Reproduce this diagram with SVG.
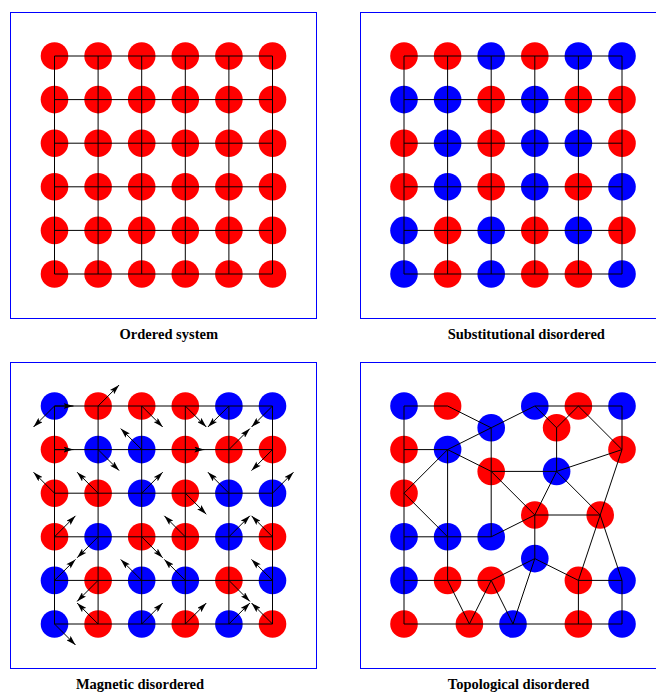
<svg xmlns="http://www.w3.org/2000/svg" width="656" height="693" viewBox="0 0 656 693">
<style>
.frame{fill:none;stroke:#0000ff;stroke-width:1}
.r{fill:#ff0000}
.b{fill:#0000ff}
.edge{fill:none;stroke:#000;stroke-width:1}
.arrow{stroke:#000;stroke-width:1;marker-end:url(#ah)}
.label{font-family:"Liberation Serif","Times New Roman",serif;font-weight:bold;font-size:14.5px;text-anchor:middle;fill:#000}
</style>
<defs>
<marker id="ah" viewBox="0 0 10 6" refX="10" refY="3" markerWidth="10" markerHeight="6" markerUnits="userSpaceOnUse" orient="auto">
<path d="M0,0 L10,3 L0,6 L2,3 z" fill="#000"/>
</marker>
<path id="grid" class="edge" d="M54.5 56H272.5M54.5 99.6H272.5M54.5 143.2H272.5M54.5 186.8H272.5M54.5 230.4H272.5M54.5 274H272.5M54.5 56V274M98.1 56V274M141.7 56V274M185.3 56V274M228.9 56V274M272.5 56V274"/>
</defs>
<rect width="656" height="693" fill="#fff"/>

<g id="panel-ordered">
<rect class="frame" x="10.5" y="12.5" width="306" height="306"/>
<g id="ordered-atoms">
<circle id="o00" class="r" cx="54.5" cy="56" r="13.8"/><circle id="o01" class="r" cx="98.1" cy="56" r="13.8"/><circle id="o02" class="r" cx="141.7" cy="56" r="13.8"/><circle id="o03" class="r" cx="185.3" cy="56" r="13.8"/><circle id="o04" class="r" cx="228.9" cy="56" r="13.8"/><circle id="o05" class="r" cx="272.5" cy="56" r="13.8"/>
<circle id="o10" class="r" cx="54.5" cy="99.6" r="13.8"/><circle id="o11" class="r" cx="98.1" cy="99.6" r="13.8"/><circle id="o12" class="r" cx="141.7" cy="99.6" r="13.8"/><circle id="o13" class="r" cx="185.3" cy="99.6" r="13.8"/><circle id="o14" class="r" cx="228.9" cy="99.6" r="13.8"/><circle id="o15" class="r" cx="272.5" cy="99.6" r="13.8"/>
<circle id="o20" class="r" cx="54.5" cy="143.2" r="13.8"/><circle id="o21" class="r" cx="98.1" cy="143.2" r="13.8"/><circle id="o22" class="r" cx="141.7" cy="143.2" r="13.8"/><circle id="o23" class="r" cx="185.3" cy="143.2" r="13.8"/><circle id="o24" class="r" cx="228.9" cy="143.2" r="13.8"/><circle id="o25" class="r" cx="272.5" cy="143.2" r="13.8"/>
<circle id="o30" class="r" cx="54.5" cy="186.8" r="13.8"/><circle id="o31" class="r" cx="98.1" cy="186.8" r="13.8"/><circle id="o32" class="r" cx="141.7" cy="186.8" r="13.8"/><circle id="o33" class="r" cx="185.3" cy="186.8" r="13.8"/><circle id="o34" class="r" cx="228.9" cy="186.8" r="13.8"/><circle id="o35" class="r" cx="272.5" cy="186.8" r="13.8"/>
<circle id="o40" class="r" cx="54.5" cy="230.4" r="13.8"/><circle id="o41" class="r" cx="98.1" cy="230.4" r="13.8"/><circle id="o42" class="r" cx="141.7" cy="230.4" r="13.8"/><circle id="o43" class="r" cx="185.3" cy="230.4" r="13.8"/><circle id="o44" class="r" cx="228.9" cy="230.4" r="13.8"/><circle id="o45" class="r" cx="272.5" cy="230.4" r="13.8"/>
<circle id="o50" class="r" cx="54.5" cy="274" r="13.8"/><circle id="o51" class="r" cx="98.1" cy="274" r="13.8"/><circle id="o52" class="r" cx="141.7" cy="274" r="13.8"/><circle id="o53" class="r" cx="185.3" cy="274" r="13.8"/><circle id="o54" class="r" cx="228.9" cy="274" r="13.8"/><circle id="o55" class="r" cx="272.5" cy="274" r="13.8"/>
</g>
<g id="ordered-connectors"><use href="#grid"/></g>
<text class="label" x="168.8" y="338.5">Ordered system</text>
</g>

<g id="panel-substitutional" transform="translate(349.5,0)">
<rect class="frame" x="11" y="12.5" width="306" height="306"/>
<g id="subst-atoms">
<circle id="s00" class="r" cx="54.5" cy="56" r="13.8"/><circle id="s01" class="r" cx="98.1" cy="56" r="13.8"/><circle id="s02" class="b" cx="141.7" cy="56" r="13.8"/><circle id="s03" class="r" cx="185.3" cy="56" r="13.8"/><circle id="s04" class="b" cx="228.9" cy="56" r="13.8"/><circle id="s05" class="b" cx="272.5" cy="56" r="13.8"/>
<circle id="s10" class="b" cx="54.5" cy="99.6" r="13.8"/><circle id="s11" class="b" cx="98.1" cy="99.6" r="13.8"/><circle id="s12" class="r" cx="141.7" cy="99.6" r="13.8"/><circle id="s13" class="b" cx="185.3" cy="99.6" r="13.8"/><circle id="s14" class="r" cx="228.9" cy="99.6" r="13.8"/><circle id="s15" class="r" cx="272.5" cy="99.6" r="13.8"/>
<circle id="s20" class="r" cx="54.5" cy="143.2" r="13.8"/><circle id="s21" class="b" cx="98.1" cy="143.2" r="13.8"/><circle id="s22" class="r" cx="141.7" cy="143.2" r="13.8"/><circle id="s23" class="b" cx="185.3" cy="143.2" r="13.8"/><circle id="s24" class="b" cx="228.9" cy="143.2" r="13.8"/><circle id="s25" class="r" cx="272.5" cy="143.2" r="13.8"/>
<circle id="s30" class="r" cx="54.5" cy="186.8" r="13.8"/><circle id="s31" class="b" cx="98.1" cy="186.8" r="13.8"/><circle id="s32" class="r" cx="141.7" cy="186.8" r="13.8"/><circle id="s33" class="b" cx="185.3" cy="186.8" r="13.8"/><circle id="s34" class="r" cx="228.9" cy="186.8" r="13.8"/><circle id="s35" class="b" cx="272.5" cy="186.8" r="13.8"/>
<circle id="s40" class="b" cx="54.5" cy="230.4" r="13.8"/><circle id="s41" class="r" cx="98.1" cy="230.4" r="13.8"/><circle id="s42" class="b" cx="141.7" cy="230.4" r="13.8"/><circle id="s43" class="r" cx="185.3" cy="230.4" r="13.8"/><circle id="s44" class="b" cx="228.9" cy="230.4" r="13.8"/><circle id="s45" class="r" cx="272.5" cy="230.4" r="13.8"/>
<circle id="s50" class="b" cx="54.5" cy="274" r="13.8"/><circle id="s51" class="r" cx="98.1" cy="274" r="13.8"/><circle id="s52" class="b" cx="141.7" cy="274" r="13.8"/><circle id="s53" class="r" cx="185.3" cy="274" r="13.8"/><circle id="s54" class="r" cx="228.9" cy="274" r="13.8"/><circle id="s55" class="b" cx="272.5" cy="274" r="13.8"/>
</g>
<g id="subst-connectors"><use href="#grid"/></g>
<text class="label" x="176.8" y="338.5">Substitutional disordered</text>
</g>

<g id="panel-magnetic" transform="translate(0,350)">
<rect class="frame" x="10.5" y="12.5" width="306" height="306"/>
<g id="magnetic-atoms">
<circle id="m00" class="b" cx="54.5" cy="56" r="13.8"/><circle id="m01" class="r" cx="98.1" cy="56" r="13.8"/><circle id="m02" class="r" cx="141.7" cy="56" r="13.8"/><circle id="m03" class="r" cx="185.3" cy="56" r="13.8"/><circle id="m04" class="b" cx="228.9" cy="56" r="13.8"/><circle id="m05" class="b" cx="272.5" cy="56" r="13.8"/>
<circle id="m10" class="r" cx="54.5" cy="99.6" r="13.8"/><circle id="m11" class="b" cx="98.1" cy="99.6" r="13.8"/><circle id="m12" class="b" cx="141.7" cy="99.6" r="13.8"/><circle id="m13" class="r" cx="185.3" cy="99.6" r="13.8"/><circle id="m14" class="r" cx="228.9" cy="99.6" r="13.8"/><circle id="m15" class="r" cx="272.5" cy="99.6" r="13.8"/>
<circle id="m20" class="r" cx="54.5" cy="143.2" r="13.8"/><circle id="m21" class="r" cx="98.1" cy="143.2" r="13.8"/><circle id="m22" class="b" cx="141.7" cy="143.2" r="13.8"/><circle id="m23" class="r" cx="185.3" cy="143.2" r="13.8"/><circle id="m24" class="b" cx="228.9" cy="143.2" r="13.8"/><circle id="m25" class="b" cx="272.5" cy="143.2" r="13.8"/>
<circle id="m30" class="r" cx="54.5" cy="186.8" r="13.8"/><circle id="m31" class="b" cx="98.1" cy="186.8" r="13.8"/><circle id="m32" class="r" cx="141.7" cy="186.8" r="13.8"/><circle id="m33" class="r" cx="185.3" cy="186.8" r="13.8"/><circle id="m34" class="b" cx="228.9" cy="186.8" r="13.8"/><circle id="m35" class="r" cx="272.5" cy="186.8" r="13.8"/>
<circle id="m40" class="b" cx="54.5" cy="230.4" r="13.8"/><circle id="m41" class="r" cx="98.1" cy="230.4" r="13.8"/><circle id="m42" class="b" cx="141.7" cy="230.4" r="13.8"/><circle id="m43" class="b" cx="185.3" cy="230.4" r="13.8"/><circle id="m44" class="r" cx="228.9" cy="230.4" r="13.8"/><circle id="m45" class="b" cx="272.5" cy="230.4" r="13.8"/>
<circle id="m50" class="b" cx="54.5" cy="274" r="13.8"/><circle id="m51" class="r" cx="98.1" cy="274" r="13.8"/><circle id="m52" class="b" cx="141.7" cy="274" r="13.8"/><circle id="m53" class="r" cx="185.3" cy="274" r="13.8"/><circle id="m54" class="b" cx="228.9" cy="274" r="13.8"/><circle id="m55" class="r" cx="272.5" cy="274" r="13.8"/>
</g>
<g id="magnetic-connectors"><use href="#grid"/></g>
<g id="magnetic-spins">
<line class="arrow" x1="54.5" y1="56" x2="33.5" y2="77"/><line class="arrow" x1="54.5" y1="56" x2="73.5" y2="56"/><line class="arrow" x1="98.1" y1="56" x2="119.1" y2="35"/><line class="arrow" x1="141.7" y1="56" x2="162.7" y2="77"/><line class="arrow" x1="185.3" y1="56" x2="206.3" y2="77"/><line class="arrow" x1="228.9" y1="56" x2="207.9" y2="77"/><line class="arrow" x1="272.5" y1="56" x2="251.5" y2="77"/>
<line class="arrow" x1="54.5" y1="99.6" x2="73.5" y2="99.6"/><line class="arrow" x1="98.1" y1="99.6" x2="119.1" y2="120.6"/><line class="arrow" x1="141.7" y1="99.6" x2="120.7" y2="78.6"/><line class="arrow" x1="185.3" y1="99.6" x2="204.3" y2="99.6"/><line class="arrow" x1="228.9" y1="99.6" x2="249.9" y2="78.6"/><line class="arrow" x1="272.5" y1="99.6" x2="251.5" y2="120.6"/>
<line class="arrow" x1="54.5" y1="143.2" x2="33.5" y2="122.2"/><line class="arrow" x1="98.1" y1="143.2" x2="77.1" y2="122.2"/><line class="arrow" x1="141.7" y1="143.2" x2="162.7" y2="122.2"/><line class="arrow" x1="185.3" y1="143.2" x2="206.3" y2="164.2"/><line class="arrow" x1="228.9" y1="143.2" x2="207.9" y2="122.2"/><line class="arrow" x1="272.5" y1="143.2" x2="293.5" y2="122.2"/>
<line class="arrow" x1="54.5" y1="186.8" x2="75.5" y2="165.8"/><line class="arrow" x1="98.1" y1="186.8" x2="77.1" y2="207.8"/><line class="arrow" x1="141.7" y1="186.8" x2="162.7" y2="207.8"/><line class="arrow" x1="185.3" y1="186.8" x2="164.3" y2="165.8"/><line class="arrow" x1="228.9" y1="186.8" x2="249.9" y2="165.8"/><line class="arrow" x1="272.5" y1="186.8" x2="251.5" y2="165.8"/>
<line class="arrow" x1="54.5" y1="230.4" x2="75.5" y2="209.4"/><line class="arrow" x1="98.1" y1="230.4" x2="77.1" y2="251.4"/><line class="arrow" x1="141.7" y1="230.4" x2="120.7" y2="209.4"/><line class="arrow" x1="185.3" y1="230.4" x2="164.3" y2="209.4"/><line class="arrow" x1="228.9" y1="230.4" x2="249.9" y2="251.4"/><line class="arrow" x1="272.5" y1="230.4" x2="251.5" y2="209.4"/>
<line class="arrow" x1="54.5" y1="274" x2="75.5" y2="295"/><line class="arrow" x1="98.1" y1="274" x2="77.1" y2="253"/><line class="arrow" x1="141.7" y1="274" x2="162.7" y2="253"/><line class="arrow" x1="185.3" y1="274" x2="206.3" y2="253"/><line class="arrow" x1="228.9" y1="274" x2="249.9" y2="253"/><line class="arrow" x1="272.5" y1="274" x2="251.5" y2="253"/>
</g>
<text class="label" x="140" y="338.5">Magnetic disordered</text>
</g>

<g id="panel-topological" transform="translate(349.5,350)">
<rect class="frame" x="11" y="12.5" width="306" height="306"/>
<g id="topo-atoms">
<circle id="t1" class="b" cx="54.5" cy="56" r="13.8"/><circle id="t2" class="r" cx="98.1" cy="56" r="13.8"/><circle id="t3" class="b" cx="185.3" cy="56" r="13.8"/><circle id="t4" class="r" cx="228.9" cy="56" r="13.8"/><circle id="t5" class="b" cx="272.5" cy="56" r="13.8"/>
<circle id="t6" class="b" cx="141.7" cy="77.8" r="13.8"/><circle id="t7" class="r" cx="207.1" cy="77.8" r="13.8"/>
<circle id="t8" class="r" cx="54.5" cy="99.6" r="13.8"/><circle id="t9" class="b" cx="98.1" cy="99.6" r="13.8"/><circle id="t10" class="r" cx="272.5" cy="99.6" r="13.8"/>
<circle id="t11" class="r" cx="141.7" cy="121.4" r="13.8"/><circle id="t12" class="b" cx="207.1" cy="121.4" r="13.8"/>
<circle id="t13" class="r" cx="54.5" cy="143.2" r="13.8"/>
<circle id="t14" class="r" cx="185.3" cy="165" r="13.8"/><circle id="t15" class="r" cx="250.7" cy="165" r="13.8"/>
<circle id="t16" class="b" cx="54.5" cy="186.8" r="13.8"/><circle id="t17" class="b" cx="98.1" cy="186.8" r="13.8"/><circle id="t18" class="b" cx="141.7" cy="186.8" r="13.8"/>
<circle id="t19" class="b" cx="185.3" cy="208.6" r="13.8"/>
<circle id="t20" class="b" cx="54.5" cy="230.4" r="13.8"/><circle id="t21" class="r" cx="98.1" cy="230.4" r="13.8"/><circle id="t22" class="r" cx="141.7" cy="230.4" r="13.8"/><circle id="t23" class="r" cx="228.9" cy="230.4" r="13.8"/><circle id="t24" class="b" cx="272.5" cy="230.4" r="13.8"/>
<circle id="t25" class="r" cx="54.5" cy="274" r="13.8"/><circle id="t26" class="r" cx="119.9" cy="274" r="13.8"/><circle id="t27" class="b" cx="163.5" cy="274" r="13.8"/><circle id="t28" class="r" cx="228.9" cy="274" r="13.8"/><circle id="t29" class="b" cx="272.5" cy="274" r="13.8"/>
</g>
<g id="topo-connectors">
<path class="edge" d="M54.5 56L98.1 56M98.1 56L141.7 77.8M141.7 77.8L185.3 56M185.3 56L272.5 56M272.5 56L272.5 99.6M185.3 56L207.1 77.8M228.9 56L207.1 77.8M207.1 77.8L207.1 121.4M228.9 56L272.5 99.6M54.5 56L54.5 274M54.5 99.6L98.1 99.6M98.1 99.6L141.7 77.8M98.1 99.6L141.7 121.4M98.1 99.6L54.5 143.2M98.1 99.6L98.1 230.4M141.7 77.8L141.7 186.8M141.7 121.4L207.1 121.4M207.1 121.4L272.5 99.6M272.5 99.6L250.7 165M141.7 121.4L185.3 165M207.1 121.4L185.3 165M207.1 121.4L250.7 165M54.5 143.2L98.1 186.8M185.3 165L250.7 165M185.3 165L141.7 186.8M185.3 165L185.3 208.6M54.5 186.8L141.7 186.8M185.3 208.6L141.7 230.4M185.3 208.6L228.9 230.4M185.3 208.6L163.5 274M54.5 230.4L141.7 230.4M98.1 230.4L119.9 274M141.7 230.4L119.9 274M141.7 230.4L163.5 274M250.7 165L228.9 230.4M250.7 165L272.5 230.4M228.9 230.4L272.5 230.4M272.5 230.4L272.5 274M228.9 230.4L228.9 274M54.5 274L272.5 274"/>
</g>
<text class="label" x="169" y="338.5">Topological disordered</text>
</g>
</svg>
